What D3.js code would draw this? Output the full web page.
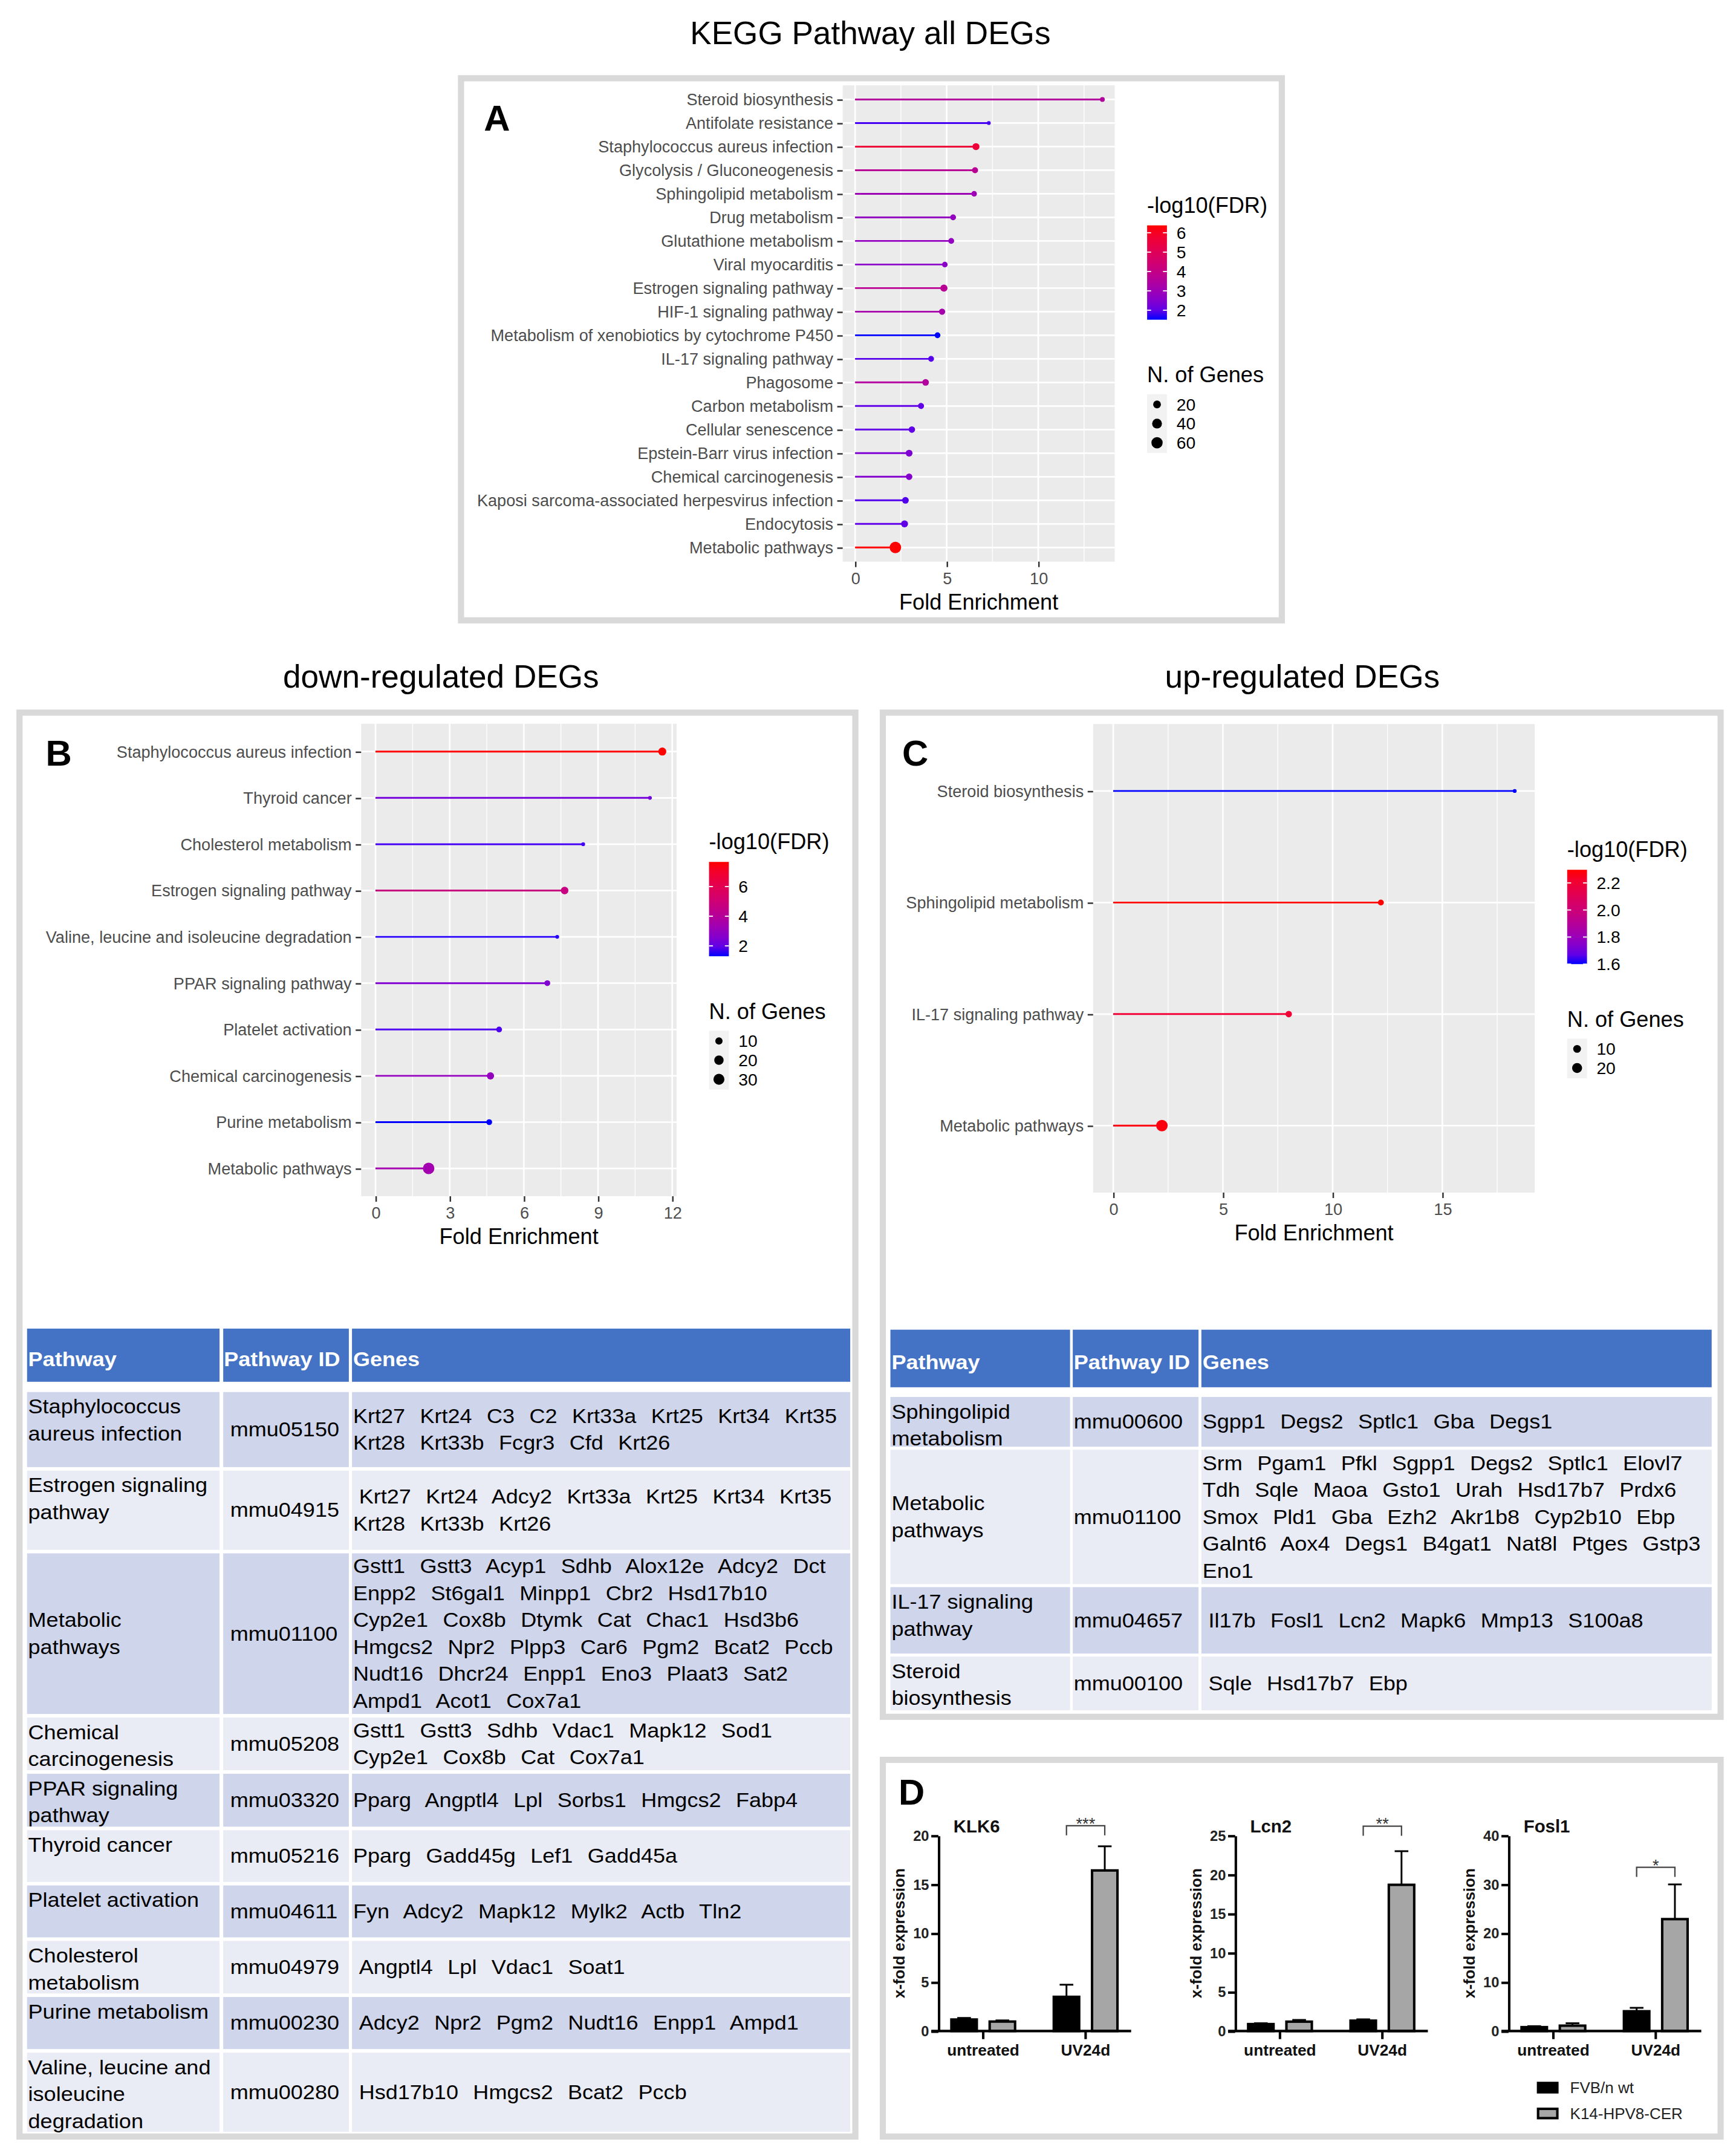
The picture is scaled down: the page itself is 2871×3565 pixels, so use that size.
<!DOCTYPE html>
<html>
<head>
<meta charset="utf-8">
<script src="https://cdn.jsdelivr.net/npm/d3@7"></script>
<style>
body { margin: 0; background: #fff; }
svg { display: block; }
text { font-family: "Liberation Sans", Arial, Helvetica, sans-serif; }
</style>
</head>
<body>
<div id="fig"></div>
<script>
// ---------- A: KEGG pathways, all DEGs
var pathwaysAll = ["Steroid biosynthesis", "Antifolate resistance", "Staphylococcus aureus infection",
  "Glycolysis / Gluconeogenesis", "Sphingolipid metabolism", "Drug metabolism", "Glutathione metabolism",
  "Viral myocarditis", "Estrogen signaling pathway", "HIF-1 signaling pathway",
  "Metabolism of xenobiotics by cytochrome P450", "IL-17 signaling pathway", "Phagosome",
  "Carbon metabolism", "Cellular senescence", "Epstein-Barr virus infection", "Chemical carcinogenesis",
  "Kaposi sarcoma-associated herpesvirus infection", "Endocytosis", "Metabolic pathways"];
var foldAll = [13.5, 7.3, 6.6, 6.55, 6.5, 5.35, 5.25, 4.9, 4.85, 4.75, 4.5, 4.15, 3.85, 3.6, 3.1, 2.95, 2.95, 2.75, 2.7, 2.2];
var fdrAll = [3.5, 1.75, 5.6, 3.7, 3.0, 2.8, 2.8, 2.6, 3.7, 3.2, 1.51, 1.9, 3.5, 2.0, 2.0, 2.4, 2.5, 1.85, 2.0, 6.38];
var genesAll = [5, 4, 14, 9, 7, 8, 8, 7, 15, 10, 8, 8, 12, 9, 11, 13, 11, 12, 14, 63];

// ---------- B: down-regulated DEGs
var pathwaysDown = ["Staphylococcus aureus infection", "Thyroid cancer", "Cholesterol metabolism",
  "Estrogen signaling pathway", "Valine, leucine and isoleucine degradation", "PPAR signaling pathway",
  "Platelet activation", "Chemical carcinogenesis", "Purine metabolism", "Metabolic pathways"];
var foldDown = [11.6, 11.1, 8.4, 7.65, 7.35, 6.95, 5.0, 4.65, 4.6, 2.15];
var fdrDown = [7.66, 2.3, 1.6, 4.7, 1.4, 2.5, 1.7, 3.0, 1.3, 3.4];
var genesDown = [13, 4, 4, 11, 4, 6, 6, 10, 6, 34];

// ---------- C: up-regulated DEGs
var pathwaysUp = ["Steroid biosynthesis", "Sphingolipid metabolism", "IL-17 signaling pathway", "Metabolic pathways"];
var foldUp = [18.3, 12.2, 8.0, 2.22];
var fdrUp = [1.6, 2.297, 2.2, 2.28];
var genesUp = [3, 5, 6, 29];

// ---------- tables
var tableHeader = ["Pathway", "Pathway ID", "Genes"];
var tableDownNames = [["Staphylococcus", "aureus infection"], ["Estrogen signaling", "pathway"], ["Metabolic", "pathways"],
  ["Chemical", "carcinogenesis"], ["PPAR signaling", "pathway"], ["Thyroid cancer"], ["Platelet activation"],
  ["Cholesterol", "metabolism"], ["Purine metabolism"], ["Valine, leucine and", "isoleucine", "degradation"]];
var tableDownIds = ["mmu05150", "mmu04915", "mmu01100", "mmu05208", "mmu03320", "mmu05216", "mmu04611", "mmu04979", "mmu00230", "mmu00280"];
var tableDownGenes = [
  ["Krt27 Krt24 C3 C2 Krt33a Krt25 Krt34 Krt35", "Krt28 Krt33b Fcgr3 Cfd Krt26"],
  [" Krt27 Krt24 Adcy2 Krt33a Krt25 Krt34 Krt35", "Krt28 Krt33b Krt26"],
  ["Gstt1 Gstt3 Acyp1 Sdhb Alox12e Adcy2 Dct", "Enpp2 St6gal1 Minpp1 Cbr2 Hsd17b10", "Cyp2e1 Cox8b Dtymk Cat Chac1 Hsd3b6",
   "Hmgcs2 Npr2 Plpp3 Car6 Pgm2 Bcat2 Pccb", "Nudt16 Dhcr24 Enpp1 Eno3 Plaat3 Sat2", "Ampd1 Acot1 Cox7a1"],
  ["Gstt1 Gstt3 Sdhb Vdac1 Mapk12 Sod1", "Cyp2e1 Cox8b Cat Cox7a1"],
  ["Pparg Angptl4 Lpl Sorbs1 Hmgcs2 Fabp4"],
  ["Pparg Gadd45g Lef1 Gadd45a"],
  ["Fyn Adcy2 Mapk12 Mylk2 Actb Tln2"],
  [" Angptl4 Lpl Vdac1 Soat1"],
  [" Adcy2 Npr2 Pgm2 Nudt16 Enpp1 Ampd1"],
  [" Hsd17b10 Hmgcs2 Bcat2 Pccb"]];
var tableUpNames = [["Sphingolipid", "metabolism"], ["Metabolic", "pathways"], ["IL-17 signaling", "pathway"], ["Steroid", "biosynthesis"]];
var tableUpIds = ["mmu00600", "mmu01100", "mmu04657", "mmu00100"];
var tableUpGenes = [
  ["Sgpp1 Degs2 Sptlc1 Gba Degs1"],
  ["Srm Pgam1 Pfkl Sgpp1 Degs2 Sptlc1 Elovl7", "Tdh Sqle Maoa Gsto1 Urah Hsd17b7 Prdx6", "Smox Pld1 Gba Ezh2 Akr1b8 Cyp2b10 Ebp",
   "Galnt6 Aox4 Degs1 B4gat1 Nat8l Ptges Gstp3", "Eno1"],
  [" Il17b Fosl1 Lcn2 Mapk6 Mmp13 S100a8"],
  [" Sqle Hsd17b7 Ebp"]];

// ---------- D: qPCR
var qpcrGenes = ["KLK6", "Lcn2", "Fosl1"];
var qpcrGroups = ["untreated", "UV24d"];
var strains = ["FVB/n wt", "K14-HPV8-CER"];
var fvbMean = [[1.18, 3.5], [0.89, 1.33], [0.8, 4.05]];
var fvbErr = [[0.16, 1.24], [0.11, 0.17], [0.2, 0.7]];
var k14Mean = [[0.97, 16.43], [1.2, 18.7], [1.1, 22.9]];
var k14Err = [[0.12, 2.47], [0.22, 4.3], [0.5, 7.1]];
var qpcrMax = [20, 25, 40];
var qpcrStep = [5, 5, 10];
var sigStars = ["***", "**", "*"];
var sigLevel = [21, 26.2, 33.5];

var W = 1270, H = 1577;
var svg = d3.select("#fig").append("svg")
  .attr("width", 2871).attr("height", 3565)
  .attr("viewBox", "0 0 " + W + " " + H);
svg.append("rect").attr("width", W).attr("height", H).attr("fill", "#fff");
var defs = svg.append("defs");

function frame(x0, y0, x1, y1) {
  var sw = 4.5;
  svg.append("rect").attr("x", x0 + sw / 2).attr("y", y0 + sw / 2)
    .attr("width", x1 - x0 - sw).attr("height", y1 - y0 - sw)
    .attr("fill", "none").attr("stroke", "#d9d9d9").attr("stroke-width", sw);
}
function txt(g, s, x, y, size, anchor, weight, fill) {
  return g.append("text").attr("x", x).attr("y", y).attr("font-size", size)
    .attr("text-anchor", anchor || "start").attr("font-weight", weight || null)
    .attr("fill", fill || "#000").text(s);
}

frame(335, 55, 940, 456);
frame(12, 519, 628, 1565);
frame(643.6, 519, 1261, 1258);
frame(643.6, 1285, 1261, 1565);

txt(svg, "KEGG Pathway all DEGs", 636.7, 32.4, 23.5, "middle");
txt(svg, "down-regulated DEGs", 322.6, 503, 23.5, "middle");
txt(svg, "up-regulated DEGs", 952.7, 503, 23.5, "middle");

txt(svg, "A", 354, 95.6, 26.5, "start", "bold");
txt(svg, "B", 33.4, 560, 26.5, "start", "bold");
txt(svg, "C", 660, 560, 26.5, "start", "bold");
txt(svg, "D", 657.3, 1320, 26.5, "start", "bold");

// ---------- lollipop panels
function lollipop(cfg) {
  var g = svg.append("g");
  var rows = cfg.names.map(function (d, i) {
    return { name: d, fold: cfg.fold[i], fdr: cfg.fdr[i], n: cfg.genes[i] };
  });
  var xMax = d3.max(cfg.fold);
  var x = d3.scaleLinear().domain([-0.05 * xMax, 1.05 * xMax]).range([cfg.x0, cfg.x1]);
  var y = d3.scalePoint().domain(cfg.names).range([cfg.y0, cfg.y1]).padding(0.6);
  var fdrExt = d3.extent(cfg.fdr);
  var col = d3.scaleLinear().domain(fdrExt).range(["#0000ff", "#ff0000"]).interpolate(d3.interpolateLab);
  var nExt = d3.extent(cfg.genes);
  var dia = function (n) {
    return 2.8 + 5.6 * Math.sqrt(Math.max(0, (n - nExt[0]) / (nExt[1] - nExt[0])));
  };

  g.append("rect").attr("x", cfg.x0).attr("y", cfg.y0)
    .attr("width", cfg.x1 - cfg.x0).attr("height", cfg.y1 - cfg.y0).attr("fill", "#ebebeb");
  var step = cfg.ticks[1] - cfg.ticks[0];
  var minor = [];
  for (var v = cfg.ticks[0] + step / 2; v <= x.domain()[1]; v += step) minor.push(v);
  g.selectAll(".mn").data(minor).enter().append("line")
    .attr("x1", function (d) { return x(d); }).attr("x2", function (d) { return x(d); })
    .attr("y1", cfg.y0).attr("y2", cfg.y1).attr("stroke", "#fff").attr("stroke-width", 0.6);
  g.selectAll(".mj").data(cfg.ticks).enter().append("line")
    .attr("x1", function (d) { return x(d); }).attr("x2", function (d) { return x(d); })
    .attr("y1", cfg.y0).attr("y2", cfg.y1).attr("stroke", "#fff").attr("stroke-width", 1.2);
  g.selectAll(".hj").data(cfg.names).enter().append("line")
    .attr("x1", cfg.x0).attr("x2", cfg.x1)
    .attr("y1", function (d) { return y(d); }).attr("y2", function (d) { return y(d); })
    .attr("stroke", "#fff").attr("stroke-width", 1.2);

  g.selectAll(".seg").data(rows).enter().append("line")
    .attr("x1", x(0)).attr("x2", function (d) { return x(d.fold); })
    .attr("y1", function (d) { return y(d.name); }).attr("y2", function (d) { return y(d.name); })
    .attr("stroke", function (d) { return col(d.fdr); }).attr("stroke-width", 1.3);
  g.selectAll(".pt").data(rows).enter().append("circle")
    .attr("cx", function (d) { return x(d.fold); }).attr("cy", function (d) { return y(d.name); })
    .attr("r", function (d) { return dia(d.n) / 2; })
    .attr("fill", function (d) { return col(d.fdr); });

  var ax = g.append("g").attr("transform", "translate(0," + cfg.y1 + ")")
    .call(d3.axisBottom(x).tickValues(cfg.ticks).tickSize(4).tickPadding(4).tickSizeOuter(0));
  var ay = g.append("g").attr("transform", "translate(" + cfg.x0 + ",0)")
    .call(d3.axisLeft(y).tickSize(4).tickPadding(2.9).tickSizeOuter(0));
  [ax, ay].forEach(function (a) {
    a.attr("font-family", null).attr("font-size", null);
    a.select(".domain").remove();
    a.selectAll("line").attr("stroke", "#333").attr("stroke-width", 1.1);
    a.selectAll("text").attr("font-size", 12).attr("fill", "#4d4d4d");
  });
  txt(g, "Fold Enrichment", (cfg.x0 + cfg.x1) / 2, cfg.y1 + 34.9, 16, "middle");

  // legends
  var lx = cfg.x1 + 23.7;
  var k = cfg.sizeBreaks.length;
  var blockH = 8 + 15 + 69 + 40 + 22 + 14 * (k - 1) + 7.5;
  var ty = (cfg.y0 + cfg.y1) / 2 - blockH / 2 + 8;
  txt(g, "-log10(FDR)", lx, ty + 5.7, 16);
  var b0 = ty + 15, b1 = b0 + 69;
  var gid = "grad" + cfg.id;
  var grad = defs.append("linearGradient").attr("id", gid)
    .attr("x1", 0).attr("y1", 1).attr("x2", 0).attr("y2", 0);
  d3.range(0, 1.0001, 0.1).forEach(function (t) {
    grad.append("stop").attr("offset", t)
      .attr("stop-color", col(fdrExt[0] + t * (fdrExt[1] - fdrExt[0])));
  });
  g.append("rect").attr("x", lx).attr("y", b0).attr("width", 14.5).attr("height", b1 - b0)
    .attr("fill", "url(#" + gid + ")");
  var cb = d3.scaleLinear().domain(fdrExt).range([b1, b0]);
  cfg.fdrTicks.forEach(function (t) {
    g.append("line").attr("x1", lx).attr("x2", lx + 2.9).attr("y1", cb(t)).attr("y2", cb(t))
      .attr("stroke", "#fff").attr("stroke-width", 0.8);
    g.append("line").attr("x1", lx + 11.6).attr("x2", lx + 14.5).attr("y1", cb(t)).attr("y2", cb(t))
      .attr("stroke", "#fff").attr("stroke-width", 0.8);
    txt(g, cfg.fdrFmt(t), lx + 21.5, cb(t) + 4.4, 12.5);
  });
  var nt = b1 + 40;
  txt(g, "N. of Genes", lx, nt + 5.7, 16);
  var k0 = nt + 22;
  g.append("rect").attr("x", lx).attr("y", k0 - 7.5).attr("width", 14.5)
    .attr("height", 14 * (k - 1) + 15).attr("fill", "#f2f2f2");
  cfg.sizeBreaks.forEach(function (s, i) {
    g.append("circle").attr("cx", lx + 7.25).attr("cy", k0 + 14 * i).attr("r", dia(s) / 2).attr("fill", "#000");
    txt(g, String(s), lx + 21.5, k0 + 14 * i + 4.4, 12.5);
  });
}

lollipop({ id: "A", names: pathwaysAll, fold: foldAll, fdr: fdrAll, genes: genesAll,
  x0: 616.5, x1: 815.5, y0: 62.4, y1: 410.8, ticks: [0, 5, 10],
  fdrTicks: [2, 3, 4, 5, 6], fdrFmt: d3.format("d"), sizeBreaks: [20, 40, 60] });
lollipop({ id: "B", names: pathwaysDown, fold: foldDown, fdr: fdrDown, genes: genesDown,
  x0: 264.2, x1: 495, y0: 529.4, y1: 875, ticks: [0, 3, 6, 9, 12],
  fdrTicks: [2, 4, 6], fdrFmt: d3.format("d"), sizeBreaks: [10, 20, 30] });
lollipop({ id: "C", names: pathwaysUp, fold: foldUp, fdr: fdrUp, genes: genesUp,
  x0: 799.7, x1: 1122.8, y0: 529.6, y1: 872.3, ticks: [0, 5, 10, 15],
  fdrTicks: [1.6, 1.8, 2.0, 2.2], fdrFmt: d3.format(".1f"), sizeBreaks: [10, 20] });

// ---------- tables
function tText(g, s, x, yb, bold, fill, ws) {
  var indent = 0;
  if (s.charAt(0) === " ") { indent = 4.3; s = s.trim(); }
  g.append("text").attr("transform", "translate(" + (x + indent) + "," + yb + ") scale(1.1,1)")
    .attr("font-size", 14.5).attr("font-weight", bold ? "bold" : null)
    .attr("word-spacing", ws || 0).attr("fill", fill || "#000").text(s);
}
function table(cfg) {
  var g = svg.append("g");
  var LH = 19.7;
  cfg.cols.forEach(function (c, j) {
    g.append("rect").attr("x", c[0]).attr("y", cfg.head[0]).attr("width", c[1] - c[0])
      .attr("height", cfg.head[1] - cfg.head[0]).attr("fill", "#4472c4");
    tText(g, tableHeader[j], cfg.textX[j], (cfg.head[0] + cfg.head[1]) / 2 + 8, true, "#fff");
  });
  var top = cfg.rowTop;
  cfg.names.forEach(function (nm, i) {
    var h = cfg.rowH[i];
    var fill = i % 2 === 0 ? "#cfd5ea" : "#e9ebf5";
    cfg.cols.forEach(function (c) {
      g.append("rect").attr("x", c[0]).attr("y", top).attr("width", c[1] - c[0])
        .attr("height", h).attr("fill", fill);
    });
    var mid = top + h / 2;
    var first = h > nm.length * LH + 40 ? mid - (nm.length - 1) * LH / 2 : top + 10.8;
    nm.forEach(function (line, k) { tText(g, line, cfg.textX[0], first + k * LH + 5); });
    tText(g, cfg.ids[i], cfg.idX, mid + 5);
    var gl = cfg.genes[i];
    var g0 = mid - (gl.length - 1) * LH / 2;
    gl.forEach(function (line, k) { tText(g, line, cfg.textX[2], g0 + k * LH + 5, false, "#000", 5.8); });
    top += h + cfg.gap;
  });
}
table({ cols: [[19.8, 160.6], [163.3, 255.2], [257.5, 622]], head: [971.8, 1010.7],
  textX: [20.6, 163.8, 258.3], idX: 168.4, rowTop: 1018.2, gap: 2.6,
  rowH: [54.9, 57.9, 117.5, 38.5, 38.7, 37.8, 38, 38.4, 38.1, 57.9],
  names: tableDownNames, ids: tableDownIds, genes: tableDownGenes });
table({ cols: [[651.4, 782.8], [784.8, 876.8], [878.9, 1252.2]], head: [972.6, 1014.7],
  textX: [652.2, 785.5, 879.7], idX: 785.5, rowTop: 1021.8, gap: 2.2,
  rowH: [36.4, 98.3, 48.6, 39.3],
  names: tableUpNames, ids: tableUpIds, genes: tableUpGenes });

// ---------- D: bar charts
var chartX = [686.5, 903.6, 1103.6];
var yBase = 1485.6, yTop = 1342.6;
qpcrGenes.forEach(function (gene, gi) {
  var g = svg.append("g");
  var x0 = chartX[gi];
  var y = d3.scaleLinear().domain([0, qpcrMax[gi]]).range([yBase, yTop]);
  var gx = d3.scalePoint().domain(qpcrGroups).range([x0 + 32.8, x0 + 107.7]);
  var sx = d3.scaleBand().domain(strains).range([-23.3, 23.3]).paddingInner(0.336);
  var bars = [];
  qpcrGroups.forEach(function (grp, j) {
    bars.push({ group: grp, strain: strains[0], v: fvbMean[gi][j], e: fvbErr[gi][j] });
    bars.push({ group: grp, strain: strains[1], v: k14Mean[gi][j], e: k14Err[gi][j] });
  });
  var cx = function (d) { return gx(d.group) + sx(d.strain) + sx.bandwidth() / 2; };

  // error bars (upper only)
  g.selectAll(".ev").data(bars).enter().append("line")
    .attr("x1", cx).attr("x2", cx)
    .attr("y1", function (d) { return y(d.v); }).attr("y2", function (d) { return y(d.v + d.e); })
    .attr("stroke", "#000").attr("stroke-width", 1.3);
  g.selectAll(".ec").data(bars).enter().append("line")
    .attr("x1", function (d) { return cx(d) - 5; }).attr("x2", function (d) { return cx(d) + 5; })
    .attr("y1", function (d) { return y(d.v + d.e); }).attr("y2", function (d) { return y(d.v + d.e); })
    .attr("stroke", "#000").attr("stroke-width", 1.3);
  g.selectAll(".bar").data(bars).enter().append("rect")
    .attr("x", function (d) { return gx(d.group) + sx(d.strain); })
    .attr("width", sx.bandwidth())
    .attr("y", function (d) { return y(d.v); })
    .attr("height", function (d) { return y(0) - y(d.v); })
    .attr("fill", function (d) { return d.strain === strains[0] ? "#000" : "#a6a6a6"; })
    .attr("stroke", "#000").attr("stroke-width", 1.8);

  var ay = g.append("g").attr("transform", "translate(" + x0 + ",0)")
    .call(d3.axisLeft(y).tickValues(d3.range(0, qpcrMax[gi] + 0.01, qpcrStep[gi]))
      .tickSize(5.2).tickPadding(1.6).tickSizeOuter(0));
  ay.attr("font-family", null).attr("font-size", null);
  ay.select(".domain").attr("stroke", "#000").attr("stroke-width", 1.8);
  ay.selectAll("line").attr("stroke", "#000").attr("stroke-width", 1.8);
  ay.selectAll("text").attr("font-size", 10.5).attr("font-weight", "bold").attr("fill", "#222");

  g.append("line").attr("x1", x0 - 5.2).attr("x2", x0 + 141).attr("y1", y(0)).attr("y2", y(0))
    .attr("stroke", "#000").attr("stroke-width", 1.8);
  qpcrGroups.forEach(function (grp) {
    g.append("line").attr("x1", gx(grp)).attr("x2", gx(grp)).attr("y1", y(0)).attr("y2", y(0) + 5.9)
      .attr("stroke", "#000").attr("stroke-width", 1.8);
    txt(g, grp, gx(grp), 1503.7, 11.6, "middle", "bold", "#111");
  });

  txt(g, gene, x0 + 11, 1340.4, 13, "start", "bold", "#111");
  g.append("text").attr("transform", "translate(" + (x0 - 28.8) + "," + ((yBase + yTop) / 2) + ") rotate(-90)")
    .attr("text-anchor", "middle").attr("dominant-baseline", "central")
    .attr("font-size", 11.5).attr("font-weight", "bold").attr("fill", "#111").text("x-fold expression");

  // significance bracket on UV24d
  var uv = bars.filter(function (d) { return d.group === qpcrGroups[1]; });
  var by = y(sigLevel[gi]);
  g.append("path")
    .attr("d", "M" + cx(uv[0]) + "," + (by + 7) + "V" + by + "H" + cx(uv[1]) + "V" + (by + 7))
    .attr("fill", "none").attr("stroke", "#444").attr("stroke-width", 1);
  txt(g, sigStars[gi], (cx(uv[0]) + cx(uv[1])) / 2, by + 2.6, 12, "middle", null, "#333");
});

// legend D
var legY = [1527, 1545.9];
strains.forEach(function (s, i) {
  svg.append("rect").attr("x", 1125.2).attr("y", legY[i] - 3.4).attr("width", 14.1).attr("height", 6.8)
    .attr("fill", i === 0 ? "#000" : "#a6a6a6").attr("stroke", "#000").attr("stroke-width", 1.8);
  txt(svg, s, 1148.6, legY[i] + 4, 11.5, "start", null, "#222");
});
</script>
</body>
</html>
